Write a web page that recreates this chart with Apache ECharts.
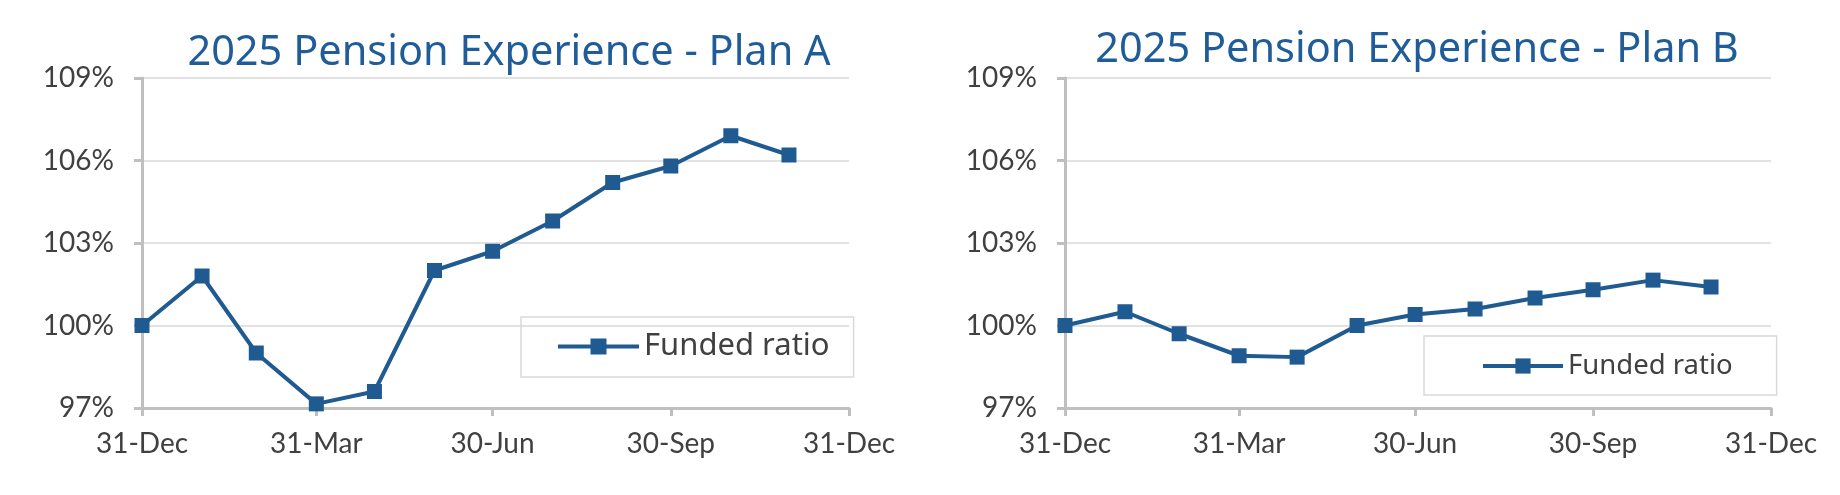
<!DOCTYPE html>
<html>
<head>
<meta charset="utf-8">
<script src="https://cdn.jsdelivr.net/npm/echarts@6/dist/echarts.min.js"></script>
<style>
html,body{margin:0;padding:0;background:#fff;}
#chart{width:1840px;height:495px;}
</style>
</head>
<body>
<div id="chart"></div>
<script>
// ---- data ----
const dates = ['2024-12-31','2025-01-31','2025-02-28','2025-03-31','2025-04-30','2025-05-31',
               '2025-06-30','2025-07-31','2025-08-31','2025-09-30','2025-10-31','2025-11-30'];
const planA = [100.0, 101.8, 99.0, 97.15, 97.6, 102.0, 102.7, 103.8, 105.2, 105.8, 106.9, 106.2];
const planB = [100.0, 100.5, 99.7, 98.9, 98.85, 100.0, 100.4, 100.6, 101.0, 101.3, 101.65, 101.4];
const xTickDates = ['2024-12-31','2025-03-31','2025-06-30','2025-09-30','2025-12-31'];
const xTickLabels = ['31-Dec','31-Mar','30-Jun','30-Sep','31-Dec'];
const yTicks = [97, 100, 103, 106, 109];
const titles = ['2025 Pension Experience - Plan A', '2025 Pension Experience - Plan B'];
const seriesName = 'Funded ratio';

// ---- helpers: dates -> day number since first tick ----
function dayNum(s){ const p = s.split('-'); return Math.round(Date.UTC(+p[0], +p[1]-1, +p[2]) / 86400000); }
const base = dayNum(xTickDates[0]);
function day(s){ return dayNum(s) - base; }
const tickDays = xTickDates.map(day);
function xLabel(v){ const i = tickDays.indexOf(Math.round(v)); return i >= 0 ? xTickLabels[i] : ''; }

const LINE = '#1f5a91';
const AXIS = '#bfbfbf';
const GRIDC = '#d9d9d9';
const TXT = '#404040';

function xAxis(gi){
  return {
    type: 'value', gridIndex: gi,
    min: tickDays[0], max: tickDays[tickDays.length-1],
    axisLine: {lineStyle: {color: AXIS, width: 3}},
    axisTick: {show: true, customValues: tickDays, length: 8, lineStyle: {color: AXIS, width: 3}},
    axisLabel: {customValues: tickDays, formatter: xLabel, margin: 22,
      fontFamily: 'Lato', fontSize: 28, color: TXT},
    splitLine: {show: false}
  };
}
function yAxis(gi){
  return {
    type: 'value', gridIndex: gi,
    min: yTicks[0], max: yTicks[yTicks.length-1], interval: 3,
    axisLine: {show: true, lineStyle: {color: AXIS, width: 3}},
    axisTick: {show: true, length: 8, lineStyle: {color: AXIS, width: 3}},
    axisLabel: {formatter: '{value}%', margin: 28, fontFamily: 'Lato', fontSize: 28, color: TXT},
    splitLine: {show: true, lineStyle: {color: GRIDC, width: 1.5}}
  };
}
function series(gi, vals){
  return {
    name: seriesName, type: 'line', xAxisIndex: gi, yAxisIndex: gi,
    data: dates.map((d,i)=>[day(d), vals[i]]),
    symbol: 'rect', symbolSize: 15,
    lineStyle: {color: LINE, width: 4},
    itemStyle: {color: LINE},
    animation: false
  };
}

const chart = echarts.init(document.getElementById('chart'), null, {renderer: 'canvas'});
chart.setOption({
  animation: false,
  title: [
    {text: titles[0], left: 504, top: 27, textAlign: 'center',
     textStyle: {fontFamily: 'Noto Sans', fontSize: 41.5, fontWeight: 'normal', color: '#1f5c99'}},
    {text: titles[1], left: 1412, top: 24, textAlign: 'center',
     textStyle: {fontFamily: 'Noto Sans', fontSize: 41.5, fontWeight: 'normal', color: '#1f5c99'}}
  ],
  grid: [
    {left: 142, top: 78, width: 707, height: 330},
    {left: 1065, top: 78, width: 706, height: 330}
  ],
  xAxis: [xAxis(0), xAxis(1)],
  yAxis: [yAxis(0), yAxis(1)],
  legend: [
    {data: [seriesName], left: 521, top: 317, orient: 'horizontal',
     padding: [14, 24, 15, 35], borderColor: GRIDC, borderWidth: 1.5,
     itemWidth: 81, itemHeight: 20, selectedMode: false,
     lineStyle: {width: 4, color: LINE},
     textStyle: {fontFamily: 'Noto Sans', fontSize: 31, color: TXT}},
    {data: [seriesName], left: 1424, top: 336, orient: 'horizontal',
     padding: [16, 44, 15, 57], borderColor: GRIDC, borderWidth: 1.5,
     itemWidth: 80, itemHeight: 19, selectedMode: false,
     lineStyle: {width: 4, color: LINE},
     textStyle: {fontFamily: 'Noto Sans', fontSize: 27.5, color: TXT}}
  ],
  series: [series(0, planA), series(1, planB)]
});
</script>
</body>
</html>
